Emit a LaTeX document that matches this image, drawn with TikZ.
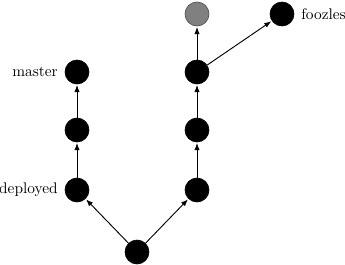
\documentclass[tikz,border=0pt]{standalone}
\usetikzlibrary{arrows.meta}

\begin{document}
\begin{tikzpicture}[x=0.65pt, y=-0.65pt, >={Latex[length=4.5pt,width=3.5pt]}, every node/.style={font=\normalsize}]
    \tikzstyle{commit}=[circle, fill=black, draw=black, inner sep=0pt, minimum size=15.6pt]
    \tikzstyle{pending}=[circle, fill=gray, draw=black!70, inner sep=0pt, minimum size=15.6pt]
    \tikzstyle{edge}=[->, semithick, shorten >=0.5pt]

    \useasboundingbox (0,0) rectangle (345,264);

    \node[commit] (root) at (137,252) {};

    \node[commit, label={[label distance=1pt]left:deployed}] (l1) at (77,190) {};
    \node[commit] (l2) at (77,130) {};
    \node[commit, label={[label distance=1pt]left:master}] (l3) at (77,72) {};

    \node[commit] (r1) at (197,190) {};
    \node[commit] (r2) at (197,130) {};
    \node[commit] (r3) at (197,72) {};
    \node[pending] (r4) at (197,14) {};
    \node[commit, label={[label distance=1pt]right:foozles}] (fz) at (282,14) {};

    \draw[edge] (root) -- (l1);
    \draw[edge] (l1) -- (l2);
    \draw[edge] (l2) -- (l3);
    \draw[edge] (root) -- (r1);
    \draw[edge] (r1) -- (r2);
    \draw[edge] (r2) -- (r3);
    \draw[edge] (r3) -- (r4);
    \draw[edge] (r3) -- (fz);
\end{tikzpicture}
\end{document}
